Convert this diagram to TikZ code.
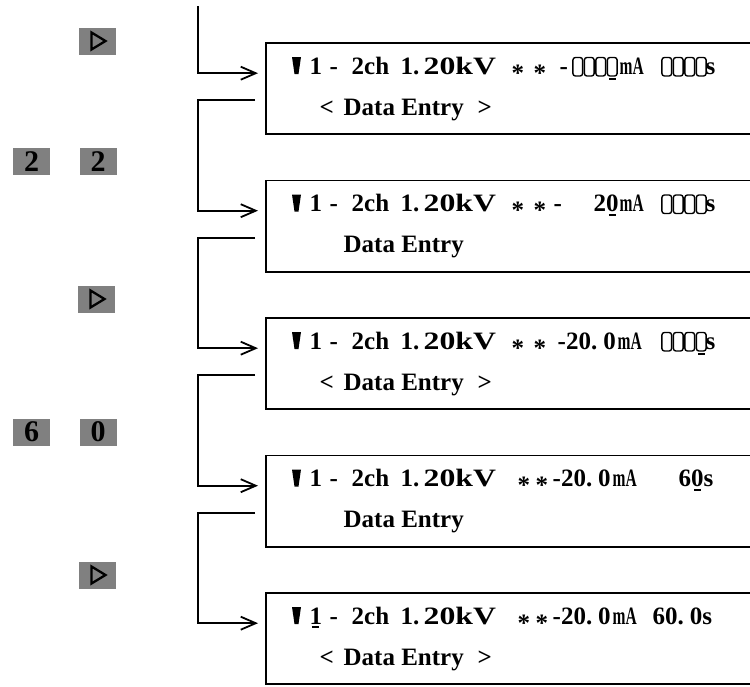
\documentclass[tikz,border=0pt]{standalone}
\usepackage{fontspec}
\setmainfont{Liberation Serif}
\usetikzlibrary{arrows.meta,calc}
\newcommand\p[2]{\rlap{\hskip#1pt\relax#2}}
\newcommand\ulc[1]{\setbox0\hbox{#1}\rlap{\hbox to\wd0{\hss\rule[-4pt]{7pt}{1.8pt}\hss}}\box0}
\newcommand\astk{\raisebox{-7pt}{*}}
\newcommand\mA{\scalebox{0.62}[1]{mA}}
\newcommand\pre{\p{329}{-}\p{351}{2ch}\p{400}{1.}\p{423}{\scalebox{1.27}[1]{20kV}}}
\newcommand\lt{\p{319}{<}\p{343}{Data Entry}\p{477}{>}}
\begin{document}
\begin{tikzpicture}[x=1pt,y=-1pt,
  lcdbox/.style={draw=none,minimum width=484pt,minimum height=91pt,inner sep=0pt,anchor=north west},
  frame/.style={line width=1.9pt,line join=miter},
  lcdrow/.style={inner sep=0pt,anchor=base west,font={\bfseries\fontsize{25}{26}\selectfont}},
  cellbox/.style={line width=1.4pt,rounded corners=2.5pt},
  key/.style={fill=black!50,minimum width=37pt,minimum height=27pt,inner sep=0pt,
    font={\bfseries\fontsize{30}{30}\selectfont}},
  tri/.style={line width=2.3pt,line join=miter},
  flow/.style={line width=1.8pt,-{Straight Barb[length=15pt,width=13pt,line width=1.8pt]}}]
\useasboundingbox (0,0) rectangle (750,686);

% display boxes
\node[lcdbox] (b1) at (266,43) {};
\node[lcdbox] (b2) at (266,180.5) {};
\node[lcdbox] (b3) at (266,318) {};
\node[lcdbox] (b4) at (266,455.5) {};
\node[lcdbox] (b5) at (266,593) {};
\foreach \b in {b1,b2,b3,b4,b5}{
  \draw[frame] (\b.north east) -- (\b.north west) -- (\b.south west) -- (\b.south east);
  \fill ($(\b.north west)+(26,14)$) -- ++(9,0) -- ++(-2.5,17) -- ++(-4,0) -- cycle;
}

% row texts
\node[lcdrow] (t1) at (0,74) {\p{309}{1}\pre\p{511}{\astk}\p{533}{\astk}\p{559}{-}\p{619}{\mA}\p{705}{s}};
\node[lcdrow] (u1) at (0,115) {\lt};
\node[lcdrow] (t2) at (0,211.5) {\p{309}{1}\pre\p{511}{\astk}\p{533}{\astk}\p{553}{-}\p{593}{2\ulc{0}}\p{619}{\mA}\p{705}{s}};
\node[lcdrow] (u2) at (0,252.5) {\p{343}{Data Entry}};
\node[lcdrow] (t3) at (0,349) {\p{309}{1}\pre\p{511}{\astk}\p{533}{\astk}\p{557}{-20.\kern6pt 0}\p{617}{\mA}\p{705}{s}};
\node[lcdrow] (u3) at (0,390) {\lt};
\node[lcdrow] (t4) at (0,486.5) {\p{309}{1}\pre\p{517}{\astk}\p{535}{\astk}\p{552}{-20.\kern6pt 0}\p{612}{\mA}\p{678}{6\ulc{0}s}};
\node[lcdrow] (u4) at (0,527.5) {\p{343}{Data Entry}};
\node[lcdrow] (t5) at (0,624) {\p{309}{\ulc{1}}\pre\p{517}{\astk}\p{535}{\astk}\p{552}{-20.\kern6pt 0}\p{612}{\mA}\p{652}{60.\kern6pt 0s}};
\node[lcdrow] (u5) at (0,665) {\lt};

% blank cells
\foreach \t/\x in {43/572,43/661,180.5/661,318/661}{
  \foreach \i in {0,...,3}
    \draw[cellbox] (\x+11.5*\i+0.9,\t+14.5) rectangle (\x+11.5*\i+10.6,\t+33);
}
\fill (572+34.5+2,43+35) rectangle ++(7.5,1.8);
\fill (661+34.5+2,318+35) rectangle ++(7.5,1.8);

% keys
\node[key] (k1) at (97.5,41) {};
\node[key] (k2) at (31.5,161.5) {2};
\node[key] (k3) at (98,161.5) {2};
\node[key] (k4) at (96.5,299) {};
\node[key] (k5) at (31.5,432) {6};
\node[key] (k6) at (98,432) {0};
\node[key] (k7) at (97.5,575) {};
\foreach \k in {k1,k4,k7}
  \draw[tri] ([shift={(-6,-8.5)}]\k.center) -- ++(14,8.5) -- ++(-14,8.5) -- cycle;

% connectors
\coordinate (start) at (198,6);
\draw[flow] (start) |- ([xshift=-8pt,yshift=15.5pt]b1.west);
\draw[flow] ([xshift=-11pt,yshift=-11.5pt]b1.west) -- ++(-57,0) |- ([xshift=-8pt,yshift=15.5pt]b2.west);
\draw[flow] ([xshift=-11pt,yshift=-11.5pt]b2.west) -- ++(-57,0) |- ([xshift=-8pt,yshift=15.5pt]b3.west);
\draw[flow] ([xshift=-11pt,yshift=-11.5pt]b3.west) -- ++(-57,0) |- ([xshift=-8pt,yshift=15.5pt]b4.west);
\draw[flow] ([xshift=-11pt,yshift=-11.5pt]b4.west) -- ++(-57,0) |- ([xshift=-8pt,yshift=15.5pt]b5.west);
\end{tikzpicture}
\end{document}
